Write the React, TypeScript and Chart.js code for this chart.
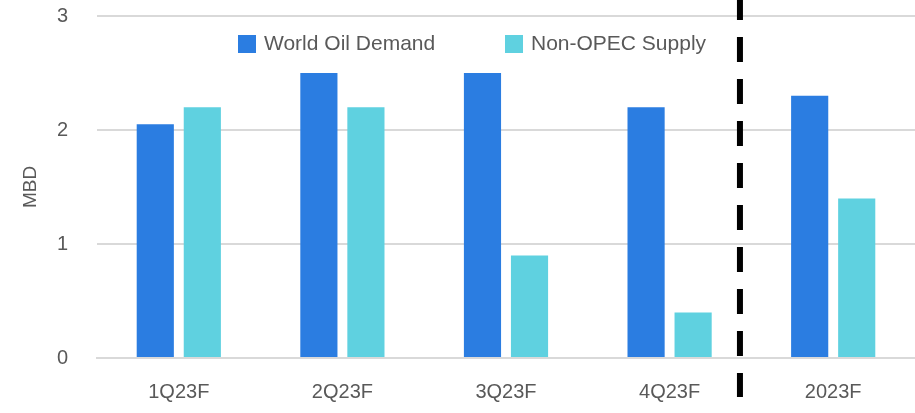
import React, { useEffect, useRef } from "react";
import { Chart, registerables } from "chart.js";

Chart.register(...registerables);

const categories = ["1Q23F", "2Q23F", "3Q23F", "4Q23F", "2023F"];
const worldOilDemand = [2.05, 2.5, 2.5, 2.2, 2.3];
const nonOpecSupply = [2.2, 2.2, 0.9, 0.4, 1.4];
const yTicks = [0, 1, 2, 3];
const seriesLabels = ["World Oil Demand", "Non-OPEC Supply"];
const dividerAt = 3.43; // category position of the dashed separator

const FONT = "'Liberation Sans', Arial, sans-serif";
const TEXT = "#595959";
const BLUE = "#2B7DE1";
const CYAN = "#5FD1E0";

const dividerPlugin = {
  id: "divider",
  afterDraw(chart: any) {
    const x = chart.scales.x;
    const i = Math.floor(dividerAt);
    const p = x.getPixelForValue(i) + (x.getPixelForValue(i + 1) - x.getPixelForValue(i)) * (dividerAt - i);
    const ctx = chart.ctx;
    ctx.save();
    ctx.strokeStyle = "#000";
    ctx.lineWidth = 6;
    ctx.setLineDash([25, 17]);
    ctx.beginPath();
    ctx.moveTo(p, -5);
    ctx.lineTo(p, 397);
    ctx.stroke();
    ctx.restore();
  },
};

const legendPlugin = {
  id: "customLegend",
  afterDraw(chart: any) {
    const ctx = chart.ctx;
    const starts = [238, 505];
    ctx.save();
    ctx.font = `21px ${FONT}`;
    ctx.textBaseline = "middle";
    ctx.textAlign = "left";
    chart.data.datasets.forEach((ds: any, k: number) => {
      const bx = starts[k];
      ctx.fillStyle = ds.backgroundColor;
      ctx.fillRect(bx, 35, 18, 18);
      ctx.fillStyle = TEXT;
      ctx.fillText(ds.label, bx + 26, 44);
    });
    ctx.restore();
  },
};

export default function App() {
  const ref = useRef<HTMLCanvasElement>(null);
  useEffect(() => {
    document.body.style.margin = "0";
    const chart = new Chart(ref.current!, {
      type: "bar",
      data: {
        labels: categories,
        datasets: [
          { label: seriesLabels[0], data: worldOilDemand, backgroundColor: BLUE },
          { label: seriesLabels[1], data: nonOpecSupply, backgroundColor: CYAN },
        ],
      },
      options: {
        responsive: false,
        animation: false,
        devicePixelRatio: 1,
        layout: { padding: { top: 16, right: 0, left: 0, bottom: 0 } },
        plugins: { legend: { display: false }, tooltip: { enabled: false } },
        datasets: { bar: { categoryPercentage: 0.575, barPercentage: 0.79 } },
        scales: {
          x: {
            grid: { display: false, drawTicks: false },
            border: { display: true, color: "#d9d9d9", width: 2 },
            ticks: { color: TEXT, font: { family: FONT, size: 20 }, padding: 22 },
            afterFit: (s: any) => { s.height = 55; s.paddingLeft = 0; s.paddingRight = 0; },
          },
          y: {
            min: 0,
            max: 3,
            afterBuildTicks: (s: any) => { s.ticks = yTicks.map((v) => ({ value: v })); },
            grid: { color: "#d9d9d9", lineWidth: 2, drawTicks: false },
            border: { display: false },
            ticks: { color: TEXT, font: { family: FONT, size: 20 }, padding: 29 },
            title: { display: true, text: "MBD", color: TEXT, font: { family: FONT, size: 19 }, padding: { top: 19, bottom: 0 } },
            afterFit: (s: any) => { s.width = 97; s.paddingTop = 0; s.paddingBottom = 0; },
          },
        },
      },
      plugins: [dividerPlugin, legendPlugin],
    });
    return () => chart.destroy();
  }, []);
  return (
    <div style={{ position: "fixed", left: 0, top: 0, width: 915, height: 413, background: "#fff" }}>
      <canvas ref={ref} width={915} height={413} style={{ display: "block" }} />
    </div>
  );
}
